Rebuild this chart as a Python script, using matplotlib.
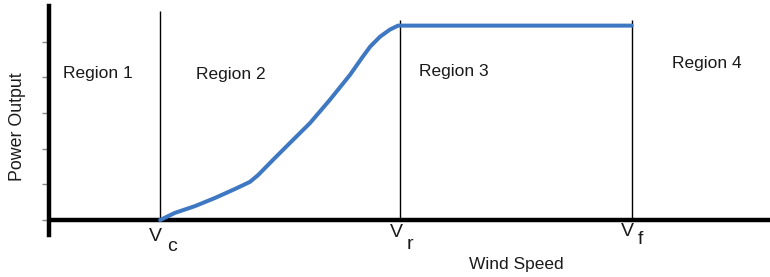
import matplotlib
matplotlib.use("Agg")
import matplotlib.pyplot as plt
import numpy as np

plt.rcParams['font.family'] = ['Liberation Sans', 'DejaVu Sans']

# Data (arbitrary wind-speed units)
v_cut_in = 3.7
v_rated = 11.7
v_furl = 19.4
curve_x = [3.70, 4.19, 4.86, 5.53, 6.19, 6.69, 6.96, 7.52, 8.02, 8.69, 9.35,
           10.02, 10.42, 10.69, 11.02, 11.35, 11.62, 11.92, 19.4]
curve_y = [0.00, 0.20, 0.39, 0.62, 0.87, 1.07, 1.26, 1.74, 2.16, 2.72, 3.37,
           4.07, 4.55, 4.86, 5.14, 5.34, 5.45, 5.45, 5.45]
y_ticks = [0, 1, 2, 3, 4, 5]
region_labels = ["Region 1", "Region 2", "Region 3", "Region 4"]
region_x = [0.45, 4.9, 12.3, 20.75]
region_y = [4.1, 4.08, 4.15, 4.4]
v_labels = [("V", "c"), ("V", "r"), ("V", "f")]

fig = plt.figure(figsize=(7.7, 2.77), dpi=100)
ax = fig.add_axes([49/770, (277-235)/277, 1 - 49/770, 229/277])
ax.set_xlim(0, 24)
ax.set_ylim(-0.42, 6.0)

for s in ['top', 'right', 'bottom']:
    ax.spines[s].set_visible(False)
ax.spines['left'].set_linewidth(3.2)
ax.spines['left'].set_color('black')

ax.set_xticks([])
ax.set_yticks(y_ticks)
ax.set_yticklabels([])
ax.tick_params(axis='y', direction='out', length=5, width=1, color='#888888')

# x axis line at y=0
ax.axhline(0, color='black', lw=3.2, zorder=3)

# vertical boundaries
ax.vlines([v_cut_in], 0, 5.85, color='black', lw=1.0, zorder=2)
ax.vlines([v_rated, v_furl], 0, 5.6, color='black', lw=1.0, zorder=2)

# power curve
ax.plot(curve_x, curve_y, color='#3f78c2', lw=2.9, solid_capstyle='round',
        solid_joinstyle='round', zorder=4)

for lbl, x, y in zip(region_labels, region_x, region_y):
    ax.text(x, y, lbl, fontsize=12.5, color='#1a1a1a', va='center', ha='left')

# V labels
vx = [v_cut_in, v_rated, v_furl]
v_y = [-0.45, -0.35, -0.33]
sub_y = [-0.73, -0.68, -0.55]
sub_dx = [0.38, 0.30, 0.30]
for (v, sub), x, yv, ys, dx in zip(v_labels, vx, v_y, sub_y, sub_dx):
    ax.text(x - 0.15, yv, v, fontsize=14, color='#1a1a1a', ha='center', va='center', clip_on=False)
    ax.text(x + dx, ys, sub, fontsize=14, color='#1a1a1a', ha='center', va='center', clip_on=False)

fig.text(516/770, 1 - 264/277, "Wind Speed", fontsize=12.5, color='#1a1a1a', ha='center', va='center')
fig.text(18/770, 1 - 127/277, "Power Output", fontsize=12.8, color='#1a1a1a', ha='center', va='center', rotation=90)

fig.savefig("out.png", dpi=100)
